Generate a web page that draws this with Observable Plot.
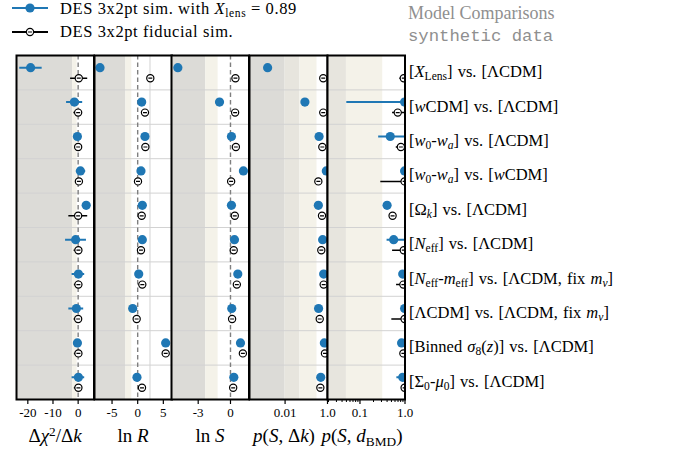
<!DOCTYPE html>
<html>
<head>
<meta charset="utf-8">
<script src="https://cdn.jsdelivr.net/npm/d3@7"></script>
<script src="https://cdn.jsdelivr.net/npm/@observablehq/plot@0.6"></script>
<style>
  body { margin: 0; background: #fff; }
  #root { position: relative; width: 689px; height: 460px; overflow: hidden; font-family: "Liberation Serif", serif; color: #000; }
  .abs { position: absolute; white-space: nowrap; }
  sub { font-size: 0.7em; vertical-align: -0.3em; line-height: 0; }
  sup { font-size: 0.7em; vertical-align: 0.45em; line-height: 0; }
  .lab { font-size: 16.5px; word-spacing: 1px; transform: translateY(-50%); }
  .ttl { font-size: 19px; transform: translateX(-50%); }
</style>
</head>
<body>
<div id="root"></div>
<script>
// ---------------- data ----------------
const models = [
  "[<i>X</i><sub>Lens</sub>] vs. [ΛCDM]",
  "[<i>w</i>CDM] vs. [ΛCDM]",
  "[<i>w</i><sub>0</sub>-<i>w<sub>a</sub></i>] vs. [ΛCDM]",
  "[<i>w</i><sub>0</sub>-<i>w<sub>a</sub></i>] vs. [<i>w</i>CDM]",
  "[Ω<sub><i>k</i></sub>] vs. [ΛCDM]",
  "[<i>N</i><sub>eff</sub>] vs. [ΛCDM]",
  "[<i>N</i><sub>eff</sub>-<i>m</i><sub>eff</sub>] vs. [ΛCDM, fix <i>m<sub>ν</sub></i>]",
  "[ΛCDM] vs. [ΛCDM, fix <i>m<sub>ν</sub></i>]",
  "[Binned <i>σ</i><sub>8</sub>(<i>z</i>)] vs. [ΛCDM]",
  "[Σ<sub>0</sub>-<i>μ</i><sub>0</sub>] vs. [ΛCDM]"
];
const legendLabels = ["DES 3x2pt sim. with <i>X</i><sub>lens</sub> = 0.89", "DES 3x2pt fiducial sim."];
const axisTitles = ["Δ<i>χ</i><sup>2</sup>/Δ<i>k</i>", "ln <i>R</i>", "ln <i>S</i>", "<i>p</i>(<i>S</i>, Δ<i>k</i>)", "<i>p</i>(<i>S</i>, <i>d</i><sub>BMD</sub>)"];

// Δχ²/Δk
const dchi2Blue   = [-18.9, -1.5, -0.3, 0.9, 3.2, -1.0, 0.1, -0.7, -0.3, 0.1];
const dchi2BlueLo = [-23.2, -4.6, -0.3, -0.7, 3.2, -5.0, -2.4, -3.7, -0.3, -2.4];
const dchi2BlueHi = [-14.3, 1.8, -0.3, 3.0, 3.2, 3.3, 2.6, 2.2, -0.3, 2.6];
const dchi2Black   = [0.25, 0.0, 0.0, 0.3, 0.0, 0.1, 0.1, 0.0, 0.1, 0.1];
const dchi2BlackLo = [-3.0, -1.7, 0.0, 0.3, -3.7, -1.6, -1.5, -1.6, -1.5, -1.5];
const dchi2BlackHi = [3.8, 1.6, 0.0, 0.3, 3.8, 1.7, 1.6, 1.6, 1.6, 1.6];
// ln R
const lnRBlue  = [-7.35, 0.78, 1.42, 0.64, 0.90, 0.90, 0.20, -0.97, 5.46, -0.14];
const lnRBlack = [2.46, 1.42, 1.50, 0.06, 0.78, 0.64, 0.90, -0.20, 5.46, 0.84];
// ln S
const lnSBlue  = [-4.89, -1.02, 0.09, 1.20, 0.09, 0.37, 0.68, 0.12, 0.93, 0.31];
const lnSBlack = [0.46, 0.43, 0.50, 0.06, 0.40, 0.30, 0.59, 0.15, 1.15, 0.25];
// p(S, Δk)
const pDkBlue  = [0.0015, 0.086, 0.40, 0.88, 0.37, 0.59, 0.66, 0.38, 0.71, 0.48];
const pDkBlack = [0.63, 0.63, 0.57, 0.37, 0.55, 0.51, 0.66, 0.43, 0.76, 0.46];
// p(S, d_BMD)
const pBmdBlue    = [null, 0.98, 0.47, 0.98, 0.40, 0.56, 0.89, 0.98, 0.84, 0.89];
const pBmdBlueLo  = [null, 0.051, 0.26, 0.98, 0.40, 0.40, 0.77, 0.98, 0.84, 0.66];
const pBmdBlueHi  = [null, 1.0, 1.0, 0.98, 0.40, 1.0, 1.0, 0.98, 0.84, 1.0];
const pBmdBlack   = [0.94, 0.69, 0.81, 0.98, 0.53, 0.94, 0.92, 0.98, 0.92, 0.98];
const pBmdBlackLo = [0.77, 0.53, 0.64, 0.29, 0.53, 0.53, 0.65, 0.51, 0.92, 0.98];
const pBmdBlackHi = [1.0, 1.0, 1.0, 1.0, 0.53, 1.0, 1.0, 1.0, 0.92, 1.0];

// tick values
const ticksDchi2 = [-20, -10, 0];
const ticksLnR = [-5, 0, 5];
const ticksLnS = [-3, 0];
const ticksPDk = [0.01, 1];
const ticksPBmd = [0.1, 1];
const minorPBmd = [0.02,0.03,0.04,0.05,0.06,0.07,0.08,0.09,0.2,0.3,0.4,0.5,0.6,0.7,0.8,0.9];

// shading thresholds (evidence regions)
const shadeDchi2 = [-2.2, -0.4];
const shadeLnR = [-2.3, -1.15];
const shadeLnS = [-2.3, -1.15];
const shadePDk = [0.01, 0.05, 0.32];
const shadePBmd = [0.05, 0.32];
const gridLnR = [2.4];

// ---------------- drawing ----------------
const BLUE = "#1f77b4";
const DARK = "#dcdbd7", MID = "#e7e5de", BEIGE = "#f4f2e9";
const root = document.getElementById("root");
const rows = d3.range(models.length);

const ringBar = {
  draw(ctx, size) {
    const r = Math.sqrt(size / Math.PI);
    ctx.moveTo(r, 0);
    ctx.arc(0, 0, r, 0, 2 * Math.PI);
    ctx.moveTo(-r * 0.55, 0);
    ctx.lineTo(r * 0.55, 0);
  }
};

const fmtTick = d => d === 1 ? "1.0" : String(d).replace("−", "-");

function bandsFrom(th, colors, lo) {
  const out = [];
  let prev = lo;
  th.forEach((t, k) => { out.push({x1: prev, x2: t, fill: colors[k]}); prev = t; });
  return out;
}

const panels = [
  {left: 16, right: 93.5, type: "linear", domain: [-24.5, 6.3], ticks: ticksDchi2, zero: true,
   bands: bandsFrom(shadeDchi2, [DARK, BEIGE], -100),
   blue: dchi2Blue, blueLo: dchi2BlueLo, blueHi: dchi2BlueHi,
   black: dchi2Black, blackLo: dchi2BlackLo, blackHi: dchi2BlackHi},
  {left: 93.5, right: 171, type: "linear", domain: [-8.42, 6.69], ticks: ticksLnR, zero: true, grid: gridLnR,
   bands: bandsFrom(shadeLnR, [DARK, BEIGE], -100), blue: lnRBlue, black: lnRBlack},
  {left: 171, right: 248.5, type: "linear", domain: [-5.48, 1.72], ticks: ticksLnS, zero: true,
   bands: bandsFrom(shadeLnS, [DARK, BEIGE], -100), blue: lnSBlue, black: lnSBlack},
  {left: 248.5, right: 326.5, type: "log", domain: [2.1e-4, 1], ticks: ticksPDk,
   bands: bandsFrom(shadePDk, [DARK, MID, BEIGE], 1e-6), blue: pDkBlue, black: pDkBlack},
  {left: 326.5, right: 404, type: "log", domain: [0.019, 1], ticks: ticksPBmd, minor: minorPBmd,
   bands: bandsFrom(shadePBmd, [MID, BEIGE], 1e-6),
   blue: pBmdBlue, blueLo: pBmdBlueLo, blueHi: pBmdBlueHi,
   black: pBmdBlack, blackLo: pBmdBlackLo, blackHi: pBmdBlackHi}
];

const TOP = 55, H = 344, MB = 30;
let yScale = null;

panels.forEach((p, pi) => {
  const W = p.right - p.left;
  const yc = i => i + 0.5;
  const valid = rows.filter(i => p.blue[i] != null);
  const marks = [
    Plot.rect(p.bands, {x1: "x1", x2: "x2", y1: 0, y2: 10, fill: "fill", clip: true}),
    Plot.ruleY(d3.range(1, 10), {stroke: "#d2d2d2", strokeWidth: 1, clip: true})
  ];
  if (p.grid) marks.push(Plot.ruleX(p.grid, {stroke: "#d2d2d2", strokeWidth: 1}));
  if (p.zero) marks.push(Plot.ruleX([0], {stroke: "#7f7f7f", strokeWidth: 1.4, strokeDasharray: "4.5,3"}));
  if (p.blueLo) marks.push(Plot.ruleY(valid, {y: yc, x1: i => p.blueLo[i], x2: i => p.blueHi[i], dy: -5, stroke: BLUE, strokeWidth: 2, clip: true}));
  marks.push(Plot.dot(valid, {x: i => p.blue[i], y: yc, dy: -5, r: 4.6, fill: BLUE, clip: true}));
  if (p.blackLo) marks.push(Plot.ruleY(rows, {y: yc, x1: i => p.blackLo[i], x2: i => p.blackHi[i], dy: 5.5, stroke: "#000", strokeWidth: 1.5, clip: true}));
  marks.push(Plot.dot(rows, {x: i => p.black[i], y: yc, dy: 5.5, r: 3.6, symbol: ringBar, fill: "#fff", stroke: "#000", strokeWidth: 1.2, clip: true}));
  marks.push(Plot.axisX({ticks: p.ticks, tickFormat: fmtTick, tickSize: 5, tickPadding: 3, fontSize: 13, stroke: "#000", strokeWidth: 1.2, label: null}));
  if (p.minor) marks.push(Plot.axisX({ticks: p.minor, tickFormat: () => "", tickSize: 3, stroke: "#000", strokeWidth: 1, label: null}));
  marks.push(Plot.frame({stroke: "#000", strokeWidth: 2}));

  const plot = Plot.plot({
    width: W + 2, height: H + 1 + MB,
    marginLeft: 1, marginRight: 1, marginTop: 1, marginBottom: MB,
    x: {type: p.type, domain: p.domain, label: null},
    y: {domain: [0, 10], reverse: true, axis: null},
    style: {background: "transparent", fontFamily: "Liberation Serif, serif", fontSize: "13px", color: "#000", overflow: "visible"},
    marks
  });
  plot.style.position = "absolute";
  plot.style.left = (p.left - 1) + "px";
  plot.style.top = (TOP - 1) + "px";
  plot.style.maxWidth = "none";
  root.appendChild(plot);
  if (pi === panels.length - 1) yScale = plot.scale("y");
});

// row labels positioned with the y scale
models.forEach((m, i) => {
  const d = document.createElement("div");
  d.className = "abs lab";
  d.style.left = "409px";
  d.style.top = (TOP - 1 + yScale.apply(i + 0.5)) + "px";
  d.innerHTML = m;
  root.appendChild(d);
});

// axis titles
const titleX = [55, 133, 210, 284, 362];
axisTitles.forEach((t, i) => {
  const d = document.createElement("div");
  d.className = "abs ttl";
  d.style.left = titleX[i] + "px";
  d.style.top = "425px";
  d.innerHTML = t;
  root.appendChild(d);
});

// legend
legendLabels.forEach((t, i) => {
  const y = i === 0 ? 7.5 : 31.5;
  const svg = d3.create("svg").attr("width", 50).attr("height", 14)
    .style("position", "absolute").style("left", "0px").style("top", (y - 7) + "px");
  svg.append("line").attr("x1", 12).attr("x2", 48).attr("y1", 7).attr("y2", 7)
    .attr("stroke", i === 0 ? BLUE : "#000").attr("stroke-width", 2);
  if (i === 0) svg.append("circle").attr("cx", 30).attr("cy", 7).attr("r", 4.6).attr("fill", BLUE);
  else svg.append("path").attr("transform", "translate(30,7)")
    .attr("d", d3.symbol(ringBar, Math.PI * 3.6 * 3.6)()).attr("fill", "#fff").attr("stroke", "#000").attr("stroke-width", 1.2);
  root.appendChild(svg.node());
  const d = document.createElement("div");
  d.className = "abs";
  d.style.left = "60px";
  d.style.top = (i === 0 ? 0 : 23) + "px";
  d.style.fontSize = "16.5px";
  d.style.letterSpacing = "0.6px";
  d.style.lineHeight = "18.5px";
  d.innerHTML = t;
  root.appendChild(d);
});

// title
const t1 = document.createElement("div");
t1.className = "abs";
t1.style.cssText += "left:408px;top:2px;font-size:18px;color:#8f8f8f;line-height:22px;";
t1.textContent = "Model Comparisons";
root.appendChild(t1);
const t2 = document.createElement("div");
t2.className = "abs";
t2.style.cssText += "left:408px;top:26px;font-size:17.3px;color:#8f8f8f;line-height:22px;font-family:'Liberation Mono','DejaVu Sans Mono',monospace;";
t2.textContent = "synthetic data";
root.appendChild(t2);
</script>
</body>
</html>
